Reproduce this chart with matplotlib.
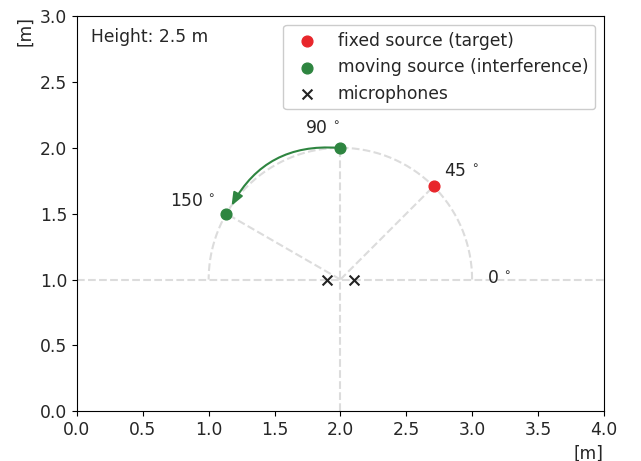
import numpy as np
import matplotlib
matplotlib.use("Agg")
from matplotlib import pyplot as plt

plt.rcParams['font.size'] = 12.3
plt.rcParams['text.color'] = '#262626'
plt.rcParams['xtick.labelcolor'] = '#262626'
plt.rcParams['ytick.labelcolor'] = '#262626'
plt.rcParams['axes.labelcolor'] = '#262626'

center = (2.0, 1.0)
radius = 1.0
mics_x = [1.9, 2.1]
mics_y = [1.0, 1.0]
target_angle = 45
interf_angles = [90, 150]
angle_labels = [0, 45, 90, 150]
height = 2.5

red = '#e8262b'
green = '#2e8540'
grey = '#dcdcdc'

fig = plt.figure(figsize=(6.41, 4.61), dpi=100)
ax = fig.add_axes([0.12, 0.108, 0.822, 0.857])

# reference lines
ax.plot([0, 4], [center[1], center[1]], ls='--', color=grey, lw=1.5, zorder=1)
ax.plot([center[0], center[0]], [0, center[1] + radius], ls='--', color=grey, lw=1.5, zorder=1)
th = np.linspace(0, np.pi, 200)
ax.plot(center[0] + radius * np.cos(th), center[1] + radius * np.sin(th), ls='--', color=grey, lw=1.5, zorder=1)
for a in [target_angle, interf_angles[1]]:
    r = np.deg2rad(a)
    ax.plot([center[0], center[0] + radius * np.cos(r)], [center[1], center[1] + radius * np.sin(r)],
            ls='--', color=grey, lw=1.5, zorder=1)

tr = np.deg2rad(target_angle)
ax.scatter([center[0] + radius * np.cos(tr)], [center[1] + radius * np.sin(tr)], color=red, s=60, zorder=3,
           label='fixed source (target)')
ix = [center[0] + radius * np.cos(np.deg2rad(a)) for a in interf_angles]
iy = [center[1] + radius * np.sin(np.deg2rad(a)) for a in interf_angles]
ax.scatter(ix, iy, color=green, s=60, zorder=3, label='moving source (interference)')
ax.scatter(mics_x, mics_y, color='#222222', marker='x', s=50, zorder=3, label='microphones')

ax.annotate('', xy=(ix[1] + 0.04, iy[1] + 0.06), xytext=(ix[0] - 0.02, iy[0]),
            arrowprops=dict(arrowstyle='-|>,head_length=0.55,head_width=0.22', color=green, lw=1.5,
                            mutation_scale=14, connectionstyle='arc3,rad=0.32', shrinkA=0, shrinkB=0),
            zorder=2)

label_pos = {0: (3.11, 1.01), 45: (2.785, 1.823), 90: (1.73, 2.15), 150: (0.706, 1.595)}
for a in angle_labels:
    x, y = label_pos[a]
    ax.text(x, y, f'{a}$\\,^\\circ$', ha='left', va='center')

ax.text(0.106, 2.84, f'Height: {height} m', ha='left', va='center')

ax.set_xlim(0, 4)
ax.set_ylim(0, 3)
ax.set_xticks(np.arange(0, 4.01, 0.5))
ax.set_yticks(np.arange(0, 3.01, 0.5))
ax.set_xlabel('[m]', loc='right')
ax.set_ylabel('[m]', loc='top')
ax.legend(loc='upper right', framealpha=1)

fig.savefig('out.png', dpi=100)
